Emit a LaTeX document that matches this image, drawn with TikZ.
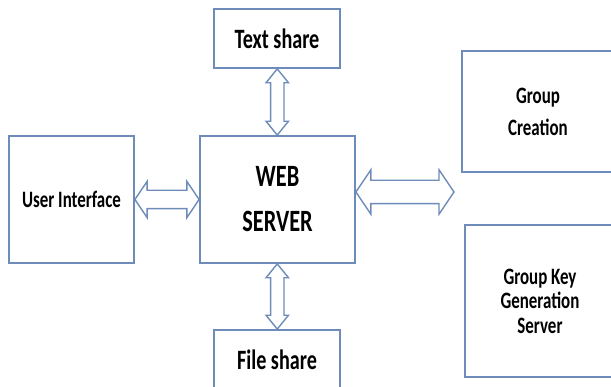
\documentclass[tikz,border=0pt]{standalone}
\usepackage{fontspec}
\setmainfont{Carlito}[FakeStretch=0.72]
\usepackage{tikz}
\usetikzlibrary{calc}
\usetikzlibrary{shapes.arrows}
\definecolor{boxline}{RGB}{110,140,185}
\newcommand{\tikzlabelsize}{\fontsize{23.5}{32}\selectfont}
\tikzstyle{block}=[draw=boxline, line width=1.8pt, fill=white, inner sep=0pt, align=center, font=\bfseries\tikzlabelsize]
\tikzstyle{dblarrow}=[double arrow, draw=boxline, line width=1.4pt, fill=white, inner sep=0pt, text depth=0pt, double arrow tip angle=112]
\tikzstyle{varrow}=[dblarrow, rotate=90, text height=12pt, minimum width=21, double arrow head extend=4.5, double arrow tip angle=78]

\begin{document}
\begin{tikzpicture}[x=1pt, y=1pt]
  \useasboundingbox (0,0) rectangle (611,387);
  % boxes
  \node[block, minimum width=126, minimum height=59, font=\bfseries\fontsize{28}{32}\selectfont] (text) at (277, 348.5) {Text share};
  \node[block, minimum width=155, minimum height=127, font=\bfseries\fontsize{31}{45}\selectfont] (web) at (277.5, 187.5) {WEB\\SERVER};
  \node[block, minimum width=125, minimum height=127] (ui) at (71.5, 187.5) {User Interface};
  \node[block, minimum width=126, minimum height=59, font=\bfseries\fontsize{28}{32}\selectfont] (file) at (277, 27.5) {File share};
  \node[block, minimum width=152, minimum height=121] (grp) at (538, 275.5) {Group\\Creation};
  \node[block, minimum width=150, minimum height=152, font=\bfseries\fontsize{23.5}{24.5}\selectfont] (key) at (540, 86) {Group Key\\Generation\\Server};
  \coordinate (bigend) at (454, 195);
  % arrows
  \path let \p1=($(web.west)-(ui.east)$), \n1={veclen(\x1,\y1)} in
    node[dblarrow, minimum height=\n1, text height=17pt, minimum width=35, double arrow head extend=9] (a_ui) at ($(ui.east)!0.5!(web.west)$) {};
  \path let \p1=($(bigend)-(web.east|-bigend)$), \n1={veclen(\x1,\y1)} in
    node[dblarrow, minimum height=\n1, text height=22pt, minimum width=43, double arrow head extend=10.5] (a_grp) at ($(web.east|-bigend)!0.5!(bigend)$) {};
  \path let \p1=($(text.south)-(web.north)$), \n1={veclen(\x1,\y1)} in
    node[varrow, minimum height=\n1] (a_text) at ($(text.south)!0.5!(web.north)$) {};
  \path let \p1=($(web.south)-(file.north)$), \n1={veclen(\x1,\y1)} in
    node[varrow, minimum height=\n1] (a_file) at ($(web.south)!0.5!(file.north)$) {};
\end{tikzpicture}
\end{document}
